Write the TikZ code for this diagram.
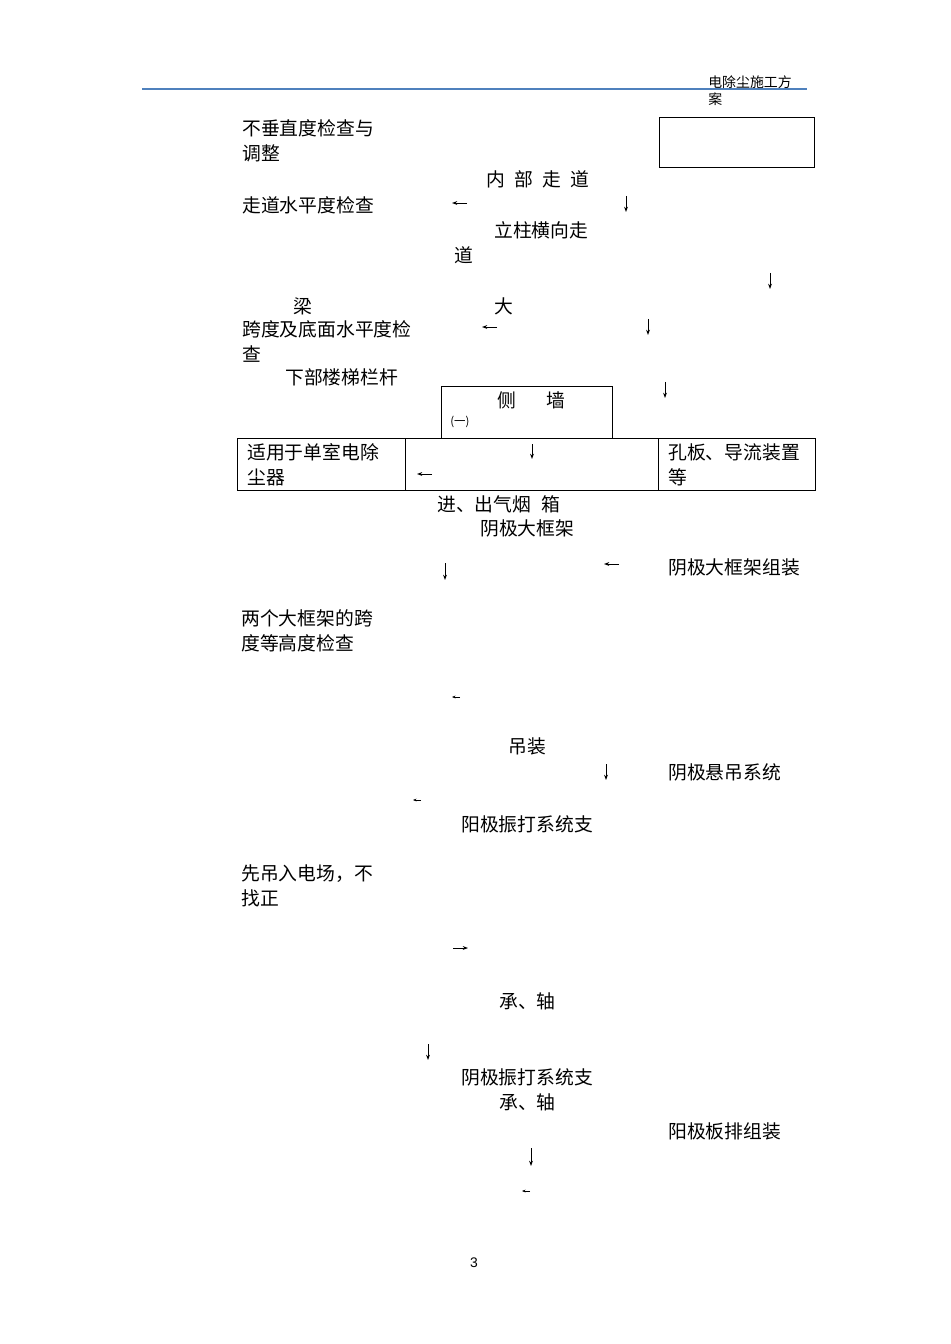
\documentclass[tikz,border=0pt]{standalone}
\usepackage{fontspec}
\setmainfont{Noto Sans CJK SC}
\newfontfamily\numfont{Liberation Sans}
\usepackage{xcolor}
\usepackage{tikz}
\usetikzlibrary{arrows.meta}
\definecolor{headblue}{RGB}{79,129,189}

\begin{document}
\begin{tikzpicture}[x=0.02cm, y=-0.02cm,
  txt/.style={inner sep=0pt, font=\fontsize{10.7}{14.2}\selectfont},
  para/.style={txt, align=left, anchor=north west},
  frame/.style={line width=0.45pt},
  arr/.style={-{Stealth[length=3pt,width=2.2pt]}, line width=0.5pt},
  sarr/.style={-{Stealth[length=2pt,width=1.6pt]}, line width=0.4pt}]
\useasboundingbox (0,0) rectangle (950,1344);
\draw[headblue, line width=0.85pt] (142,89) -- (807,89);
\node[inner sep=0pt, align=left, anchor=north west, font=\fontsize{7.9}{9.6}\selectfont] (head) at (708,75.5) {电除尘施工方\\案};
\draw[frame] (659,117) rectangle (814,167);
\draw[frame] (441,386) rectangle (612,438);
\draw[frame] (237,438) rectangle (815,490);
\draw[frame] (405,438) -- (405,490);
\draw[frame] (658,438) -- (658,490);
\node[para] (plumb) at (242,119.5) {不垂直度检查与\\调整};
\node[txt, anchor=west] (inwalk) at (486,179) {内\hspace{5.3pt}部\hspace{5.3pt}走\hspace{5.3pt}道};
\node[txt, anchor=west] (walklvl) at (242,205) {走道水平度检查};
\node[txt, anchor=west] (colwalk) at (494,230) {立柱横向走};
\node[txt, anchor=west] (colwalk2) at (454,255) {道};
\node[txt, anchor=west] (beam) at (293,306) {梁};
\node[txt, anchor=west] (big) at (494,306) {大};
\node[para] (span) at (242,320.5) {跨度及底面水平度检\\查};
\node[txt, anchor=west] (stair) at (285,377) {下部楼梯栏杆};
\node[txt, anchor=west] (side) at (497,400) {侧\hspace{17pt}墙};
\node[txt, anchor=west, font=\fontsize{6.5}{8}\selectfont] (one) at (450,422) {(一)};
\node[para] (single) at (247,443.5) {适用于单室电除\\尘器};
\node[para] (perf) at (668,443.5) {孔板、导流装置\\等};
\node[txt, anchor=west] (flue) at (437,504) {进、出气烟\hspace{6pt}箱};
\node[txt, anchor=west] (frame) at (480,528) {阴极大框架};
\node[txt, anchor=west] (frameasm) at (668,567) {阴极大框架组装};
\node[para] (twospan) at (241,609.5) {两个大框架的跨\\度等高度检查};
\node[txt, anchor=west] (lift) at (508,746) {吊装};
\node[txt, anchor=west] (hang) at (668,772) {阴极悬吊系统};
\node[txt, anchor=west] (anrap) at (461,824) {阳极振打系统支};
\node[para] (first) at (241,864.5) {先吊入电场，不\\找正};
\node[txt, anchor=west] (bear1) at (499,1001) {承、轴};
\node[txt, anchor=west] (catrap) at (461,1077) {阴极振打系统支};
\node[txt, anchor=west] (bear2) at (499,1102) {承、轴};
\node[txt, anchor=west] (plates) at (668,1131) {阳极板排组装};
\node[inner sep=0pt, font=\numfont\fontsize{7.9}{9}\selectfont] (page) at (474,1263) {3};
\coordinate (a1s) at (467,203);
\coordinate (a1e) at (452,203);
\draw[arr] (a1s) -- (a1e);
\coordinate (a2s) at (626,196);
\coordinate (a2e) at (626,212);
\draw[arr] (a2s) -- (a2e);
\coordinate (a3s) at (770,273);
\coordinate (a3e) at (770,289);
\draw[arr] (a3s) -- (a3e);
\coordinate (a4s) at (497,327);
\coordinate (a4e) at (482,327);
\draw[arr] (a4s) -- (a4e);
\coordinate (a5s) at (648,319);
\coordinate (a5e) at (648,335);
\draw[arr] (a5s) -- (a5e);
\coordinate (a6s) at (665,382);
\coordinate (a6e) at (665,398);
\draw[arr] (a6s) -- (a6e);
\coordinate (a7s) at (532,444);
\coordinate (a7e) at (532,459);
\draw[arr] (a7s) -- (a7e);
\coordinate (a8s) at (432,474);
\coordinate (a8e) at (417,474);
\draw[arr] (a8s) -- (a8e);
\coordinate (a9s) at (445,563);
\coordinate (a9e) at (445,580);
\draw[arr] (a9s) -- (a9e);
\coordinate (a10s) at (619,564);
\coordinate (a10e) at (604,564);
\draw[arr] (a10s) -- (a10e);
\coordinate (a11s) at (460,697);
\coordinate (a11e) at (452,697);
\draw[sarr] (a11s) -- (a11e);
\coordinate (a12s) at (606,764);
\coordinate (a12e) at (606,780);
\draw[arr] (a12s) -- (a12e);
\coordinate (a13s) at (421,800);
\coordinate (a13e) at (413,800);
\draw[sarr] (a13s) -- (a13e);
\coordinate (a14s) at (453,948);
\coordinate (a14e) at (468,948);
\draw[arr] (a14s) -- (a14e);
\coordinate (a15s) at (428,1044);
\coordinate (a15e) at (428,1060);
\draw[arr] (a15s) -- (a15e);
\coordinate (a16s) at (531,1148);
\coordinate (a16e) at (531,1166);
\draw[arr] (a16s) -- (a16e);
\coordinate (a17s) at (530,1191);
\coordinate (a17e) at (522,1191);
\draw[sarr] (a17s) -- (a17e);
\end{tikzpicture}
\end{document}
